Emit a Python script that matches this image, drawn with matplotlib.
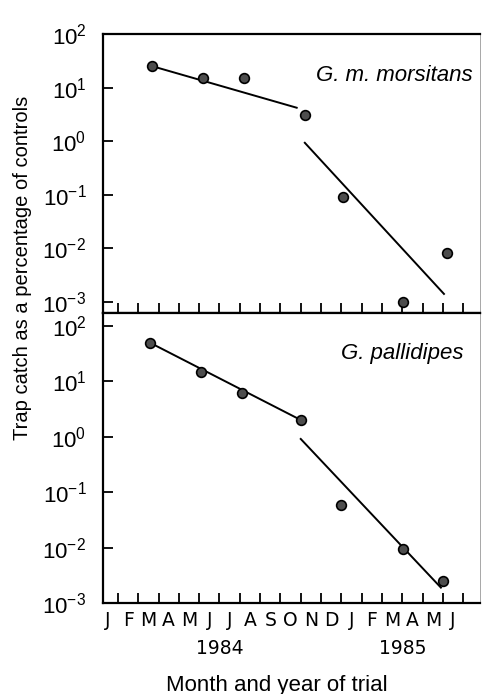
import math
import matplotlib
matplotlib.use("Agg")
import matplotlib.pyplot as plt
from matplotlib.ticker import FixedLocator, FuncFormatter, NullLocator
from matplotlib.transforms import blended_transform_factory

plt.rcParams['font.family'] = ['Liberation Sans', 'DejaVu Sans']
plt.rcParams['mathtext.fontset'] = 'custom'
plt.rcParams['mathtext.rm'] = 'Liberation Sans'
plt.rcParams['mathtext.it'] = 'Liberation Sans:italic'

# months counted from 1 Jan 1984
month_letters = list("JFMAMJJASONDJFMAMJ")
year_labels = ['1984', '1985']
year_centres = [6.0, 15.0]

# G. m. morsitans
mm_month = [2.7, 5.2, 7.2, 10.2, 12.1, 15.05, 17.2]
mm_catch = [25, 15, 15, 3.1, 0.09, 0.001, 0.008]
mm_fit1_month = [2.7, 9.8]
mm_fit1_catch = [25, 4.2]
mm_fit2_month = [10.2, 17.05]
mm_fit2_catch = [0.93, 0.0014]

# G. pallidipes
gp_month = [2.6, 5.1, 7.1, 10.0, 12.0, 15.05, 17.0]
gp_catch = [49, 14.8, 6.2, 2.0, 0.059, 0.0096, 0.0025]
gp_fit1_month = [2.6, 10.0]
gp_fit1_catch = [49, 2.0]
gp_fit2_month = [10.0, 16.9]
gp_fit2_catch = [0.91, 0.0019]

decades = [1e-3, 1e-2, 1e-1, 1e0, 1e1, 1e2]

fig = plt.figure(figsize=(4.84, 6.94), dpi=100)
ax_top = fig.add_axes([0.213, 0.549, 0.779, 0.402])
ax_bot = fig.add_axes([0.213, 0.131, 0.779, 0.418])


def pow_fmt(v, pos):
    e = int(round(math.log10(v)))
    return r'$\mathregular{10^{%d}}$' % e


for ax in (ax_top, ax_bot):
    ax.set_yscale('log')
    ax.set_xlim(0.27, 18.83)
    ax.yaxis.set_major_locator(FixedLocator(decades))
    ax.yaxis.set_minor_locator(NullLocator())
    ax.yaxis.set_major_formatter(FuncFormatter(pow_fmt))
    ax.xaxis.set_major_locator(FixedLocator(range(1, 19)))
    ax.xaxis.set_minor_locator(FixedLocator([m + 0.5 for m in range(18)]))
    ax.tick_params(axis='y', direction='in', length=7, width=1.3,
                   labelsize=16, pad=12)
    ax.tick_params(axis='x', which='major', direction='in', length=7,
                   width=1.3, labelbottom=False)
    ax.tick_params(axis='x', which='minor', length=0, labelbottom=False)
    for side in ('left', 'bottom', 'top'):
        ax.spines[side].set_linewidth(1.6)
    ax.spines['right'].set_linewidth(0.6)
    ax.spines['right'].set_color('#999999')

ax_top.set_ylim(10 ** -3.21, 100)
ax_bot.set_ylim(1e-3, 10 ** 2.23)

marker_kw = dict(marker='o', linestyle='none', markersize=7,
                 markerfacecolor='#4d4d4d', markeredgecolor='black',
                 markeredgewidth=1.2, zorder=3)
line_kw = dict(color='black', linewidth=1.4, zorder=2)

ax_top.plot(mm_fit1_month, mm_fit1_catch, **line_kw)
ax_top.plot(mm_fit2_month, mm_fit2_catch, **line_kw)
ax_top.plot(mm_month, mm_catch, **marker_kw)
ax_top.text(0.98, 0.853, 'G. m. morsitans', transform=ax_top.transAxes,
            ha='right', va='center', fontsize=16, style='italic')

ax_bot.plot(gp_fit1_month, gp_fit1_catch, **line_kw)
ax_bot.plot(gp_fit2_month, gp_fit2_catch, **line_kw)
ax_bot.plot(gp_month, gp_catch, **marker_kw)
ax_bot.text(0.955, 0.862, 'G. pallidipes', transform=ax_bot.transAxes,
            ha='right', va='center', fontsize=16, style='italic')

# month letters and years under the lower panel
ax_bot.set_xticklabels(month_letters, minor=True)
ax_bot.tick_params(axis='x', which='minor', labelbottom=True, labelsize=13.5,
                   pad=6)
for lbl in ax_bot.get_xticklabels(minor=True):
    lbl.set_family('DejaVu Sans')
trans = blended_transform_factory(ax_bot.transData, fig.transFigure)
for yr, xc in zip(year_labels, year_centres):
    ax_bot.text(xc, 1 - 648 / 694, yr, transform=trans, ha='center',
                va='center', fontsize=13.5, family='DejaVu Sans')

fig.text(0.572, 1 - 685 / 694, 'Month and year of trial', ha='center',
         va='center', fontsize=16)
fig.text(0.047, 1 - 268 / 694, 'Trap catch as a percentage of controls',
         rotation=90, ha='center', va='center', fontsize=14.5)

fig.savefig('out.png', dpi=100)
